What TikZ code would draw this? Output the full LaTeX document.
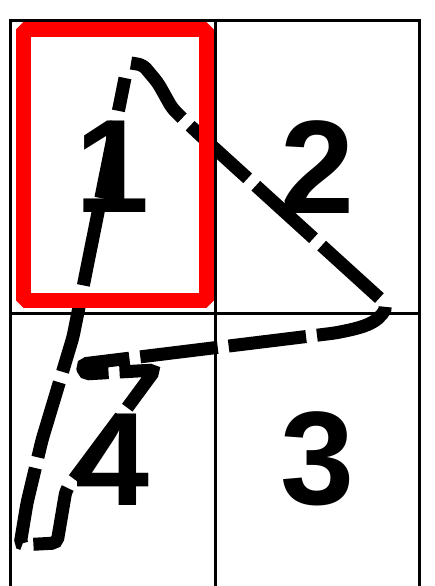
\documentclass[tikz,border=0pt]{standalone}
\usepackage{fontspec}
\setmainfont{Liberation Sans}
\usetikzlibrary{positioning}
\tikzset{
    cell/.style={draw, rectangle, line width=3pt, outer sep=0pt, inner sep=0pt, minimum width=204.5pt, minimum height=292.5pt, font=\fontsize{133}{133}\selectfont\bfseries},
    frame/.style={draw=red, rectangle, line width=15pt, line join=bevel, outer sep=0pt, minimum width=183pt, minimum height=270.5pt},
    scribble/.style={line width=13pt, dash pattern=on 78pt off 11pt, rounded corners=5pt}
}

\begin{document}
\begin{tikzpicture}[x=1pt, y=-1pt]
\useasboundingbox (0,0) rectangle (434,586);
\clip (0,0) rectangle (434,586);
\node[cell] (c1) at (112.75,166.75) {1};
\node[cell, right=0pt of c1] (c2) {2};
\node[cell, below=0pt of c1] (c4) {4};
\node[cell, right=0pt of c4] (c3) {3};
\draw[scribble] (131,63) -- (143,65) -- (158,83) -- (172,108) -- (182,118) -- (200,135) -- (387,305)
    .. controls (378,324) and (360,328) .. (335,333) -- (82,364) -- (84,374) -- (155,370) -- (130,404)
    -- (66,490) -- (57,543) -- (20,545) -- (27,503) -- (42,440) -- (73,337) -- (125,78);
\node[frame] (sel) at (114.5,165.25) {};
\end{tikzpicture}
\end{document}
